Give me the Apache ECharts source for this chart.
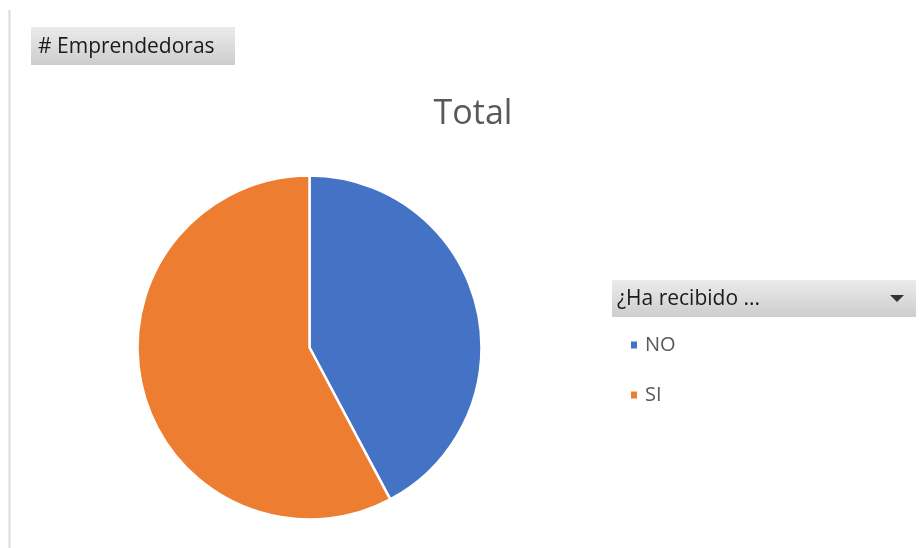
<!DOCTYPE html>
<html>
<head>
<meta charset="utf-8">
<script src="https://cdn.jsdelivr.net/npm/echarts@6/dist/echarts.min.js"></script>
<style>
html,body{margin:0;padding:0;background:#fff;}
#c{width:924px;height:548px;}
</style>
</head>
<body>
<div id="c"></div>
<script>
const categories = ['NO', 'SI'];
const values = [19, 26];
const colors = ['#4472C4', '#ED7D31'];
const titleText = 'Total';
const fieldButton = '# Emprendedoras';
const legendHeader = '¿Ha recibido ...';

const chart = echarts.init(document.getElementById('c'), null, {renderer: 'canvas'});
const FONT = '"Open Sans", "Noto Sans", sans-serif';
chart.setOption({
  backgroundColor: '#ffffff',
  animation: false,
  title: {
    text: titleText,
    left: 468, top: 92, textAlign: 'center',
    textStyle: {fontFamily: FONT, fontSize: 34, fontWeight: 'normal', color: '#595959'}
  },
  legend: {
    orient: 'vertical',
    left: 624, top: 330,
    icon: 'rect', itemWidth: 8, itemHeight: 9, itemGap: 30,
    data: categories,
    selectedMode: false,
    textStyle: {fontFamily: FONT, fontSize: 20, color: '#595959', padding: [0,0,0,2]}
  },
  graphic: [
    {type: 'line', shape: {x1: 9.5, y1: 10, x2: 9.5, y2: 548}, style: {stroke: '#dcdcdc', lineWidth: 2}},
    {type: 'rect', shape: {x: 31, y: 27, width: 204, height: 38},
     style: {fill: new echarts.graphic.LinearGradient(0,0,0,1,[{offset:0,color:'#ebebeb'},{offset:1,color:'#cdcdcd'}])}},
    {type: 'text', x: 38, y: 47, style: {text: fieldButton, fontFamily: FONT, fontSize: 21, fill: '#1a1a1a', verticalAlign: 'middle'}},
    {type: 'rect', shape: {x: 612, y: 280, width: 304, height: 37},
     style: {fill: new echarts.graphic.LinearGradient(0,0,0,1,[{offset:0,color:'#ebebeb'},{offset:1,color:'#cdcdcd'}])}},
    {type: 'text', x: 617, y: 299, style: {text: legendHeader, fontFamily: FONT, fontSize: 21, fill: '#1a1a1a', verticalAlign: 'middle'}},
    {type: 'polygon', shape: {points: [[890, 295], [904, 295], [897, 302]]}, style: {fill: '#333333'}}
  ],
  series: [{
    type: 'pie',
    center: [309.5, 347.5],
    radius: [0, 172],
    startAngle: 90,
    clockwise: true,
    label: {show: false},
    labelLine: {show: false},
    emphasis: {disabled: true},
    itemStyle: {borderColor: '#ffffff', borderWidth: 2.5},
    data: categories.map((c, i) => ({name: c, value: values[i], itemStyle: {color: colors[i]}}))
  }]
});
</script>
</body>
</html>
